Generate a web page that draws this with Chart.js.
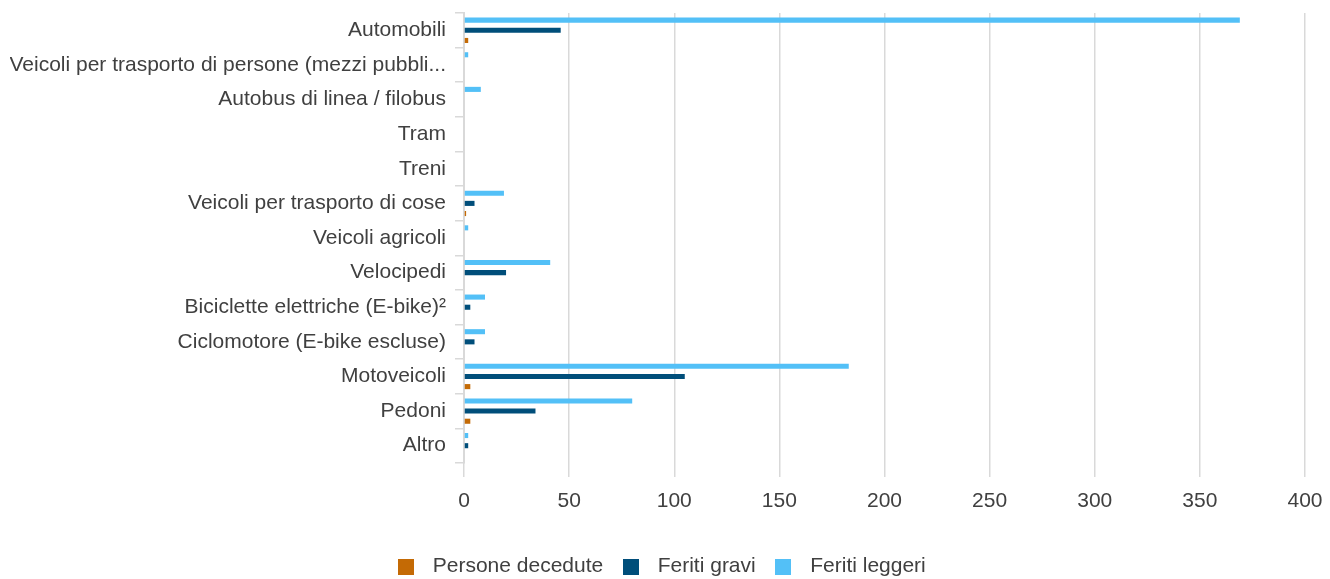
<!DOCTYPE html>
<html>
<head>
<meta charset="utf-8">
<script src="https://cdn.jsdelivr.net/npm/chart.js@4/dist/chart.umd.min.js"></script>
<style>
html,body{margin:0;padding:0;background:#fff;}
#wrap{width:1330px;height:579px;position:relative;}
</style>
</head>
<body>
<div id="wrap"><canvas id="c" width="1330" height="579"></canvas></div>
<script>
const categories = [
  "Automobili",
  "Veicoli per trasporto di persone (mezzi pubbli...",
  "Autobus di linea / filobus",
  "Tram",
  "Treni",
  "Veicoli per trasporto di cose",
  "Veicoli agricoli",
  "Velocipedi",
  "Biciclette elettriche (E-bike)²",
  "Ciclomotore (E-bike escluse)",
  "Motoveicoli",
  "Pedoni",
  "Altro"
];
const personeDecedute = [2, 0, 0, 0, 0, 1, 0, 0, 0, 0, 3, 3, 0];
const feritiGravi     = [46, 0, 0, 0, 0, 5, 0, 20, 3, 5, 105, 34, 2];
const feritiLeggeri   = [369, 2, 8, 0, 0, 19, 2, 41, 10, 10, 183, 80, 2];
const xTicks = [0, 50, 100, 150, 200, 250, 300, 350, 400];

const FONT = "'Liberation Sans', Arial, sans-serif";
const GRID = '#d9d9d9';
const COLORS = ['#53C0F7', '#004E7A', '#C46A05'];

function swatch(color) {
  const cv = document.createElement('canvas');
  cv.width = 16; cv.height = 16;
  const g = cv.getContext('2d');
  g.fillStyle = color; g.fillRect(0, 0, 16, 16);
  return cv;
}
const swatches = COLORS.map(swatch);

new Chart(document.getElementById('c'), {
  type: 'bar',
  data: {
    labels: categories,
    datasets: [
      { label: 'Feriti leggeri', data: feritiLeggeri, backgroundColor: COLORS[0] },
      { label: 'Feriti gravi', data: feritiGravi, backgroundColor: COLORS[1] },
      { label: 'Persone decedute', data: personeDecedute, backgroundColor: COLORS[2] }
    ]
  },
  options: {
    indexAxis: 'y',
    responsive: false,
    animation: false,
    devicePixelRatio: 1,
    layout: { padding: { left: 10, right: 25, top: 13, bottom: -8 } },
    datasets: { bar: { barPercentage: 0.5, categoryPercentage: 0.88 } },
    scales: {
      x: {
        min: 0, max: 400,
        afterBuildTicks: (s) => { s.ticks = xTicks.map(v => ({ value: v })); },
        grid: { color: GRID, lineWidth: 1.5, drawTicks: true, tickLength: 14, tickColor: GRID },
        border: { display: false },
        ticks: { font: { family: FONT, size: 21 }, color: '#404040', padding: 12, maxRotation: 0 },
        afterFit: (s) => { s.height = 82; s.paddingLeft = 0; s.paddingRight = 0; }
      },
      y: {
        offset: true,
        grid: { drawOnChartArea: false, drawTicks: true, tickLength: 9, color: GRID, lineWidth: 1.5, offset: true },
        border: { display: true, color: GRID, width: 2 },
        ticks: { font: { family: FONT, size: 21 }, color: '#404040', padding: 9, autoSkip: false },
        afterFit: (s) => { s.width = 454; s.paddingTop = 0; s.paddingBottom = 0; }
      }
    },
    plugins: {
      legend: {
        position: 'bottom',
        reverse: true,
        labels: {
          font: { family: FONT, size: 21 },
          color: '#404040',
          usePointStyle: true,
          pointStyleWidth: 33,
          boxHeight: 16,
          padding: 11,
          generateLabels: (chart) => {
            const items = Chart.defaults.plugins.legend.labels.generateLabels(chart);
            items.forEach(it => { it.pointStyle = swatches[it.datasetIndex]; });
            return items;
          }
        }
      },
      tooltip: { enabled: false }
    }
  }
});
</script>
</body>
</html>
